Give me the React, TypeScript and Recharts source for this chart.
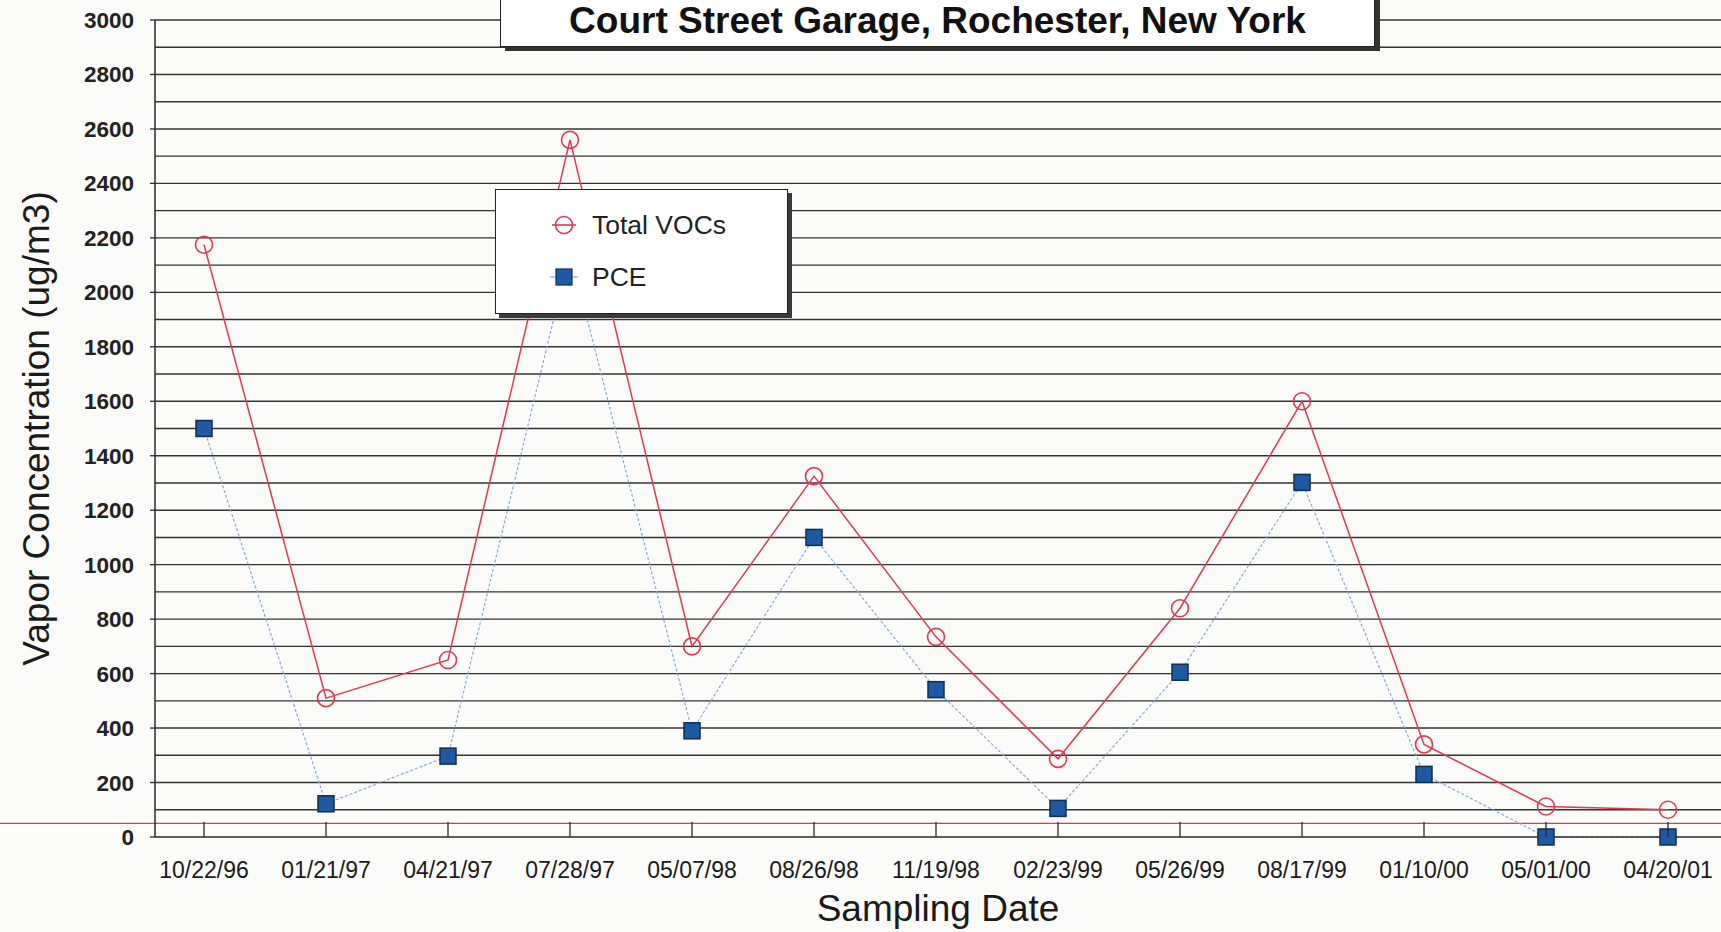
import { LineChart, Line, XAxis, YAxis, ReferenceLine, Legend } from "recharts"

const sampleDates = [
  "10/22/96", "01/21/97", "04/21/97", "07/28/97", "05/07/98", "08/26/98", "11/19/98",
  "02/23/99", "05/26/99", "08/17/99", "01/10/00", "05/01/00", "04/20/01",
]
const totalVocs = [2175, 510, 650, 2560, 700, 1325, 735, 287, 840, 1600, 340, 112, 100]
const pceValues = [1500, 122, 297, 2150, 390, 1100, 541, 105, 605, 1302, 230, 0, 0]

const yTicks = [0, 200, 400, 600, 800, 1000, 1200, 1400, 1600, 1800, 2000, 2200, 2400, 2600, 2800, 3000]
const gridValues = [
  100, 200, 300, 400, 500, 600, 700, 800, 900, 1000, 1100, 1200, 1300, 1400, 1500,
  1600, 1700, 1800, 1900, 2000, 2100, 2200, 2300, 2400, 2500, 2600, 2700, 2800, 2900, 3000,
]
const referenceLevel = 50

const data = sampleDates.map((date, i) => ({ date, voc: totalVocs[i], pce: pceValues[i] }))

const FONT = "'Liberation Sans', Arial, Helvetica, sans-serif"
const RED = "#e03a4e"
const BLUE_FILL = "#1d5aa3"
const BLUE_LINE = "#86acd8"
const INK = "#2a2a2a"

function VocDot(props: any) {
  const { cx, cy, index } = props
  if (cx == null || cy == null) return null
  return <circle key={`voc-${index}`} cx={cx} cy={cy} r={8.5} fill="none" stroke={RED} strokeWidth={1.6} />
}

function PceDot(props: any) {
  const { cx, cy, index } = props
  if (cx == null || cy == null) return null
  return (
    <rect key={`pce-${index}`} x={cx - 8} y={cy - 8} width={16} height={16}
      fill={BLUE_FILL} stroke="#10304f" strokeWidth={1.5} />
  )
}

function DateTick(props: any) {
  const { x, y, payload } = props
  return (
    <g>
      <line x1={x} y1={y} x2={x} y2={y - 15} stroke={INK} strokeWidth={1.3} />
      <text x={x} y={y + 41} textAnchor="middle" fontSize={23} fill="#1a1a1a" fontFamily={FONT}>
        {payload.value}
      </text>
    </g>
  )
}

function LegendBox() {
  const row = { position: "absolute" as const, left: 0, height: 32, display: "flex", alignItems: "center" }
  return (
    <div style={{
      width: 293, height: 125, boxSizing: "border-box", background: "#fff",
      border: "1.5px solid #222", boxShadow: "4px 4px 0 #3a3a3a", position: "relative",
      fontFamily: FONT, fontSize: 26.5, color: "#222",
    }}>
      <div style={{ ...row, top: 19 }}>
        <svg width={96} height={32}>
          <line x1={56} y1={16} x2={80} y2={16} stroke={RED} strokeWidth={1.6} />
          <circle cx={68} cy={16} r={8.5} fill="none" stroke={RED} strokeWidth={1.6} />
        </svg>
        <span>Total VOCs</span>
      </div>
      <div style={{ ...row, top: 71 }}>
        <svg width={96} height={32}>
          <line x1={54} y1={16} x2={82} y2={16} stroke={BLUE_LINE} strokeWidth={1.2} />
          <rect x={60} y={8} width={16} height={16} fill={BLUE_FILL} stroke="#10304f" strokeWidth={1.2} />
        </svg>
        <span>PCE</span>
      </div>
    </div>
  )
}

export default function App() {
  return (
    <div style={{ position: "absolute", left: 0, top: 0, width: 1721, height: 932, background: "#fbfbf9", overflow: "hidden" }}>
      <LineChart width={1721} height={932} data={data} margin={{ top: 20, right: 0, bottom: 0, left: 0 }}>
        {gridValues.map((v) => (
          <ReferenceLine key={v} y={v} stroke="#333" strokeWidth={1.4} ifOverflow="extendDomain" />
        ))}
        <ReferenceLine
          y={referenceLevel}
          stroke={RED}
          strokeWidth={1.4}
          shape={(p: any) => <line x1={0} y1={p.y1} x2={1721} y2={p.y2} stroke={RED} strokeWidth={1.4} />}
        />
        <XAxis
          dataKey="date"
          scale="point"
          padding={{ left: 49, right: 53 }}
          height={95}
          interval={0}
          tickSize={0}
          tickMargin={0}
          tickLine={false}
          axisLine={{ stroke: INK, strokeWidth: 1.5 }}
          tick={<DateTick />}
          label={{
            content: (p: any) => {
              const vb = p.viewBox
              return (
                <text x={vb.x + vb.width / 2} y={vb.y + 84} textAnchor="middle" fontSize={37} fill="#1a1a1a" fontFamily={FONT}>
                  Sampling Date
                </text>
              )
            },
          }}
        />
        <YAxis
          type="number"
          domain={[0, 3000]}
          ticks={yTicks}
          interval={0}
          width={155}
          tickSize={5}
          tickMargin={16}
          axisLine={{ stroke: INK, strokeWidth: 1.5 }}
          tickLine={{ stroke: INK, strokeWidth: 1.3 }}
          tick={{ fontSize: 22.5, fontWeight: "bold", fill: "#222", fontFamily: FONT }}
          label={{
            content: (p: any) => {
              const vb = p.viewBox
              const cy = vb.y + vb.height / 2
              return (
                <text x={49} y={cy} transform={`rotate(-90, 49, ${cy})`} textAnchor="middle" fontSize={37} fill="#1a1a1a" fontFamily={FONT}>
                  Vapor Concentration (ug/m3)
                </text>
              )
            },
          }}
        />
        <Line
          type="linear"
          dataKey="voc"
          name="Total VOCs"
          stroke={RED}
          strokeWidth={1.5}
          dot={VocDot}
          activeDot={false}
          isAnimationActive={false}
        />
        <Line
          type="linear"
          dataKey="pce"
          name="PCE"
          stroke={BLUE_LINE}
          strokeWidth={1.2}
          strokeDasharray="3 2"
          dot={PceDot}
          activeDot={false}
          isAnimationActive={false}
        />
        <Legend
          layout="horizontal"
          verticalAlign="middle"
          align="center"
          content={<LegendBox />}
          wrapperStyle={{ left: 495, top: 189, width: 293, height: 125 }}
        />
      </LineChart>
      <div style={{
        position: "absolute", left: 500, top: -30, width: 875, height: 77, boxSizing: "border-box",
        background: "#fff", border: "1.5px solid #222", boxShadow: "5px 4px 0 #333",
      }}>
        <div style={{
          position: "absolute", left: 0, right: 0, top: 34.5, textAlign: "center", lineHeight: "30px",
          fontFamily: FONT, fontSize: 37, fontWeight: "bold", color: "#111", whiteSpace: "nowrap",
        }}>
          Court Street Garage, Rochester, New York
        </div>
      </div>
    </div>
  )
}
